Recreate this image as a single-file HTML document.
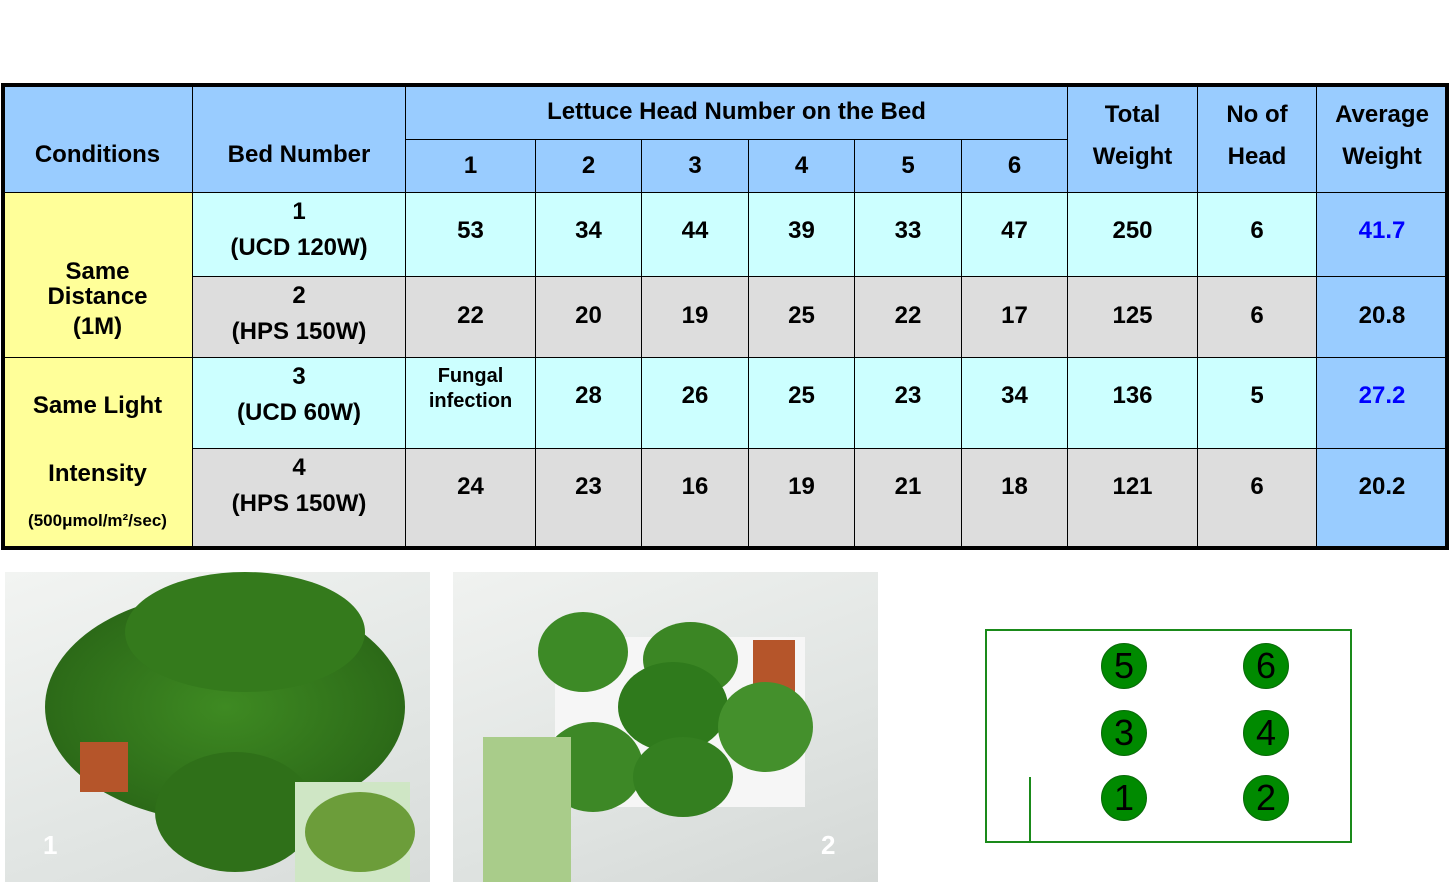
<!DOCTYPE html>
<html><head><meta charset="utf-8"><style>
body{margin:0;width:1453px;height:883px;background:#fff;position:relative;overflow:hidden;font-family:"Liberation Sans",Arial,sans-serif;font-weight:bold;color:#000}
.c{position:absolute;box-sizing:border-box;border:1px solid #000;display:flex;align-items:center;justify-content:center;text-align:center;font-size:24px;line-height:1.15}
.h{background:#99ccff}.y{background:#ffff99}.b{background:#ccffff}.g{background:#dddddd}
.blob{position:absolute;border-radius:50%}
.circ{position:absolute;width:44px;height:44px;border-radius:50%;background:#008a00;border:1px solid #0a6a0a;display:flex;align-items:center;justify-content:center;font-weight:normal;font-size:36px;color:#000}
</style></head><body>
<div>
<div class="c h" style="left:2px;top:84px;width:191px;height:109px;padding-top:32px">Conditions</div>
<div class="c h" style="left:192px;top:84px;width:214px;height:109px;padding-top:32px">Bed Number</div>
<div class="c h" style="left:405px;top:84px;width:663px;height:56px">Lettuce Head Number on the Bed</div>
<div class="c h" style="left:405px;top:139px;width:131px;height:54px">1</div>
<div class="c h" style="left:535px;top:139px;width:107px;height:54px">2</div>
<div class="c h" style="left:641px;top:139px;width:108px;height:54px">3</div>
<div class="c h" style="left:748px;top:139px;width:107px;height:54px">4</div>
<div class="c h" style="left:854px;top:139px;width:108px;height:54px">5</div>
<div class="c h" style="left:961px;top:139px;width:107px;height:54px">6</div>
<div class="c h" style="left:1067px;top:84px;width:131px;height:109px;line-height:42px;padding-bottom:6px">Total<br>Weight</div>
<div class="c h" style="left:1197px;top:84px;width:120px;height:109px;line-height:42px;padding-bottom:6px">No of<br>Head</div>
<div class="c h" style="left:1316px;top:84px;width:132px;height:109px;line-height:42px;padding-bottom:6px">Average<br>Weight</div>

<div class="c y" style="left:2px;top:192px;width:191px;height:166px;display:block;padding-top:66px;line-height:25px">Same<br>Distance<div style="margin-top:5px">(1M)</div></div>
<div class="c y" style="left:2px;top:357px;width:191px;height:192px;display:block;padding-top:34px">Same Light<div style="height:40px"></div>Intensity<div style="font-size:17px;margin-top:24px">(500μmol/m²/sec)</div></div>

<div class="c b" style="left:192px;top:192px;width:214px;height:85px;line-height:36px;padding-bottom:10px">1<br>(UCD 120W)</div>
<div class="c g" style="left:192px;top:276px;width:214px;height:82px;line-height:36px;padding-bottom:6px">2<br>(HPS 150W)</div>
<div class="c b" style="left:192px;top:357px;width:214px;height:92px;line-height:36px;padding-bottom:16px">3<br>(UCD 60W)</div>
<div class="c g" style="left:192px;top:448px;width:214px;height:101px;line-height:36px;padding-bottom:26px">4<br>(HPS 150W)</div>
</div>
<div id="rows"></div>
<div style="position:absolute;left:1px;top:83px;width:1448px;height:467px;box-sizing:border-box;border:4px solid #000"></div>

<div style="position:absolute;left:5px;top:572px;width:425px;height:310px;background:linear-gradient(160deg,#f2f4f2,#e2e6e4 60%,#d8dcda);overflow:hidden">
<div class="blob" style="left:40px;top:20px;width:360px;height:230px;background:radial-gradient(#3e8a22,#2c6a18 70%,#295d15)"></div>
<div class="blob" style="left:120px;top:0px;width:240px;height:120px;background:#347a1c"></div>
<div class="blob" style="left:150px;top:180px;width:160px;height:120px;background:#2f7019"></div>
<div style="position:absolute;left:75px;top:170px;width:48px;height:50px;background:#b5552a"></div>
<div style="position:absolute;left:290px;top:210px;width:115px;height:100px;background:#cfe6c5"></div>
<div class="blob" style="left:300px;top:220px;width:110px;height:80px;background:#6c9d3a"></div>
<div style="position:absolute;left:38px;top:258px;color:#fff;font-size:26px">1</div>
</div>
<div style="position:absolute;left:453px;top:572px;width:425px;height:310px;background:linear-gradient(160deg,#f0f2f0,#e0e4e2 60%,#d4d8d6);overflow:hidden">
<div style="position:absolute;left:102px;top:65px;width:250px;height:170px;background:#f6f6f6"></div>
<div style="position:absolute;left:300px;top:68px;width:42px;height:60px;background:#b5552a"></div>
<div class="blob" style="left:85px;top:40px;width:90px;height:80px;background:#3d8a26"></div>
<div class="blob" style="left:190px;top:50px;width:95px;height:75px;background:#3b8624"></div>
<div class="blob" style="left:165px;top:90px;width:110px;height:90px;background:#2f7a1c"></div>
<div class="blob" style="left:265px;top:110px;width:95px;height:90px;background:#44902c"></div>
<div class="blob" style="left:90px;top:150px;width:100px;height:90px;background:#3d8826"></div>
<div class="blob" style="left:180px;top:165px;width:100px;height:80px;background:#347f20"></div>
<div style="position:absolute;left:30px;top:165px;width:88px;height:145px;background:#a9cc8a"></div>
<div style="position:absolute;left:368px;top:258px;color:#fff;font-size:26px">2</div>
</div>

<div style="position:absolute;left:985px;top:629px;width:367px;height:214px;box-sizing:border-box;border:2px solid #1a8a1a">
<div style="position:absolute;left:42px;top:146px;width:2px;height:66px;background:#1a8a1a"></div>
</div>
<div class="circ" style="left:1101px;top:643px">5</div>
<div class="circ" style="left:1243px;top:643px">6</div>
<div class="circ" style="left:1101px;top:710px">3</div>
<div class="circ" style="left:1243px;top:710px">4</div>
<div class="circ" style="left:1101px;top:775px">1</div>
<div class="circ" style="left:1243px;top:775px">2</div>

<script>
const bedRows=[
 ['53','34','44','39','33','47','250','6','41.7'],
 ['22','20','19','25','22','17','125','6','20.8'],
 ['Fungal<br>infection','28','26','25','23','34','136','5','27.2'],
 ['24','23','16','19','21','18','121','6','20.2']];
const rowTops=[192,276,357,448],rowH=[85,82,92,101];
const padB=[8,2,14,24];
const colL=[405,535,641,748,854,961,1067,1197,1316],colW=[131,107,108,107,108,107,131,120,132];
const host=document.getElementById('rows');
bedRows.forEach((r,i)=>{r.forEach((v,j)=>{
 const d=document.createElement('div');
 d.className='c '+(j==8?'h':(i%2?'g':'b'));
 d.style.cssText=`left:${colL[j]}px;top:${rowTops[i]}px;width:${colW[j]}px;height:${rowH[i]}px;padding-bottom:${padB[i]}px`;
 if(j==8&&i%2==0)d.style.color='#0000ff';
 if(j==0&&i==2){d.style.fontSize='20px';d.style.lineHeight='25px';d.style.paddingBottom='28px';}
 d.innerHTML=v;
 
 
 host.appendChild(d);});});
</script>
</body></html>
